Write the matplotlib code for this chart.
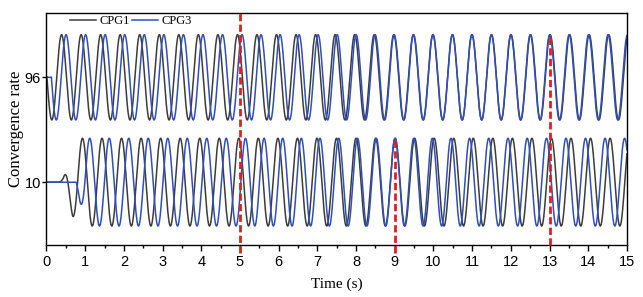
import numpy as np
import matplotlib.pyplot as plt

# oscillator parameters
period = 0.505            # s, same for both CPGs
center_upper = 96
center_lower = 10
amp_upper = 35.0
amp_lower = 36.0

# time of a CPG1 peak in each band (s)
cpg1_peak_upper = 0.39
cpg1_peak_lower = 0.93

# lag of CPG3 behind CPG1 (s) at a few times
lag_t_upper = [0, 5, 7, 9, 11, 13, 15]
lag_upper = [0.115, 0.12, 0.065, 0.01, 0.0, -0.01, -0.02]
lag_t_lower = [0, 5, 7, 9, 11, 13, 15]
lag_lower = [0.19, 0.18, 0.08, 0.0, -0.1, -0.13, -0.13]

# start-up envelopes
start_cpg1_upper = 0.01
start_cpg3_upper = 0.125
env_t_cpg1_lower = [0.35, 0.43, 0.68, 0.85]
env_cpg1_lower = [0, 0.08, 0.78, 1]
env_t_cpg3_lower = [0.76, 0.875, 1.05]
env_cpg3_lower = [0, 0.48, 1]

event_times = [5, 9, 13]
event_top = [148.7, 46, 131]
event_bottom = [-48, -48, -41.6]

xticks = np.arange(0, 16, 1)
yticks = [10, 96]

t = np.linspace(0, 15, 7501)

def wave(peak, lag, env, center, amp):
    return center + amp * env * np.cos(2 * np.pi * (t - peak - lag) / period)

cpg1_up = wave(cpg1_peak_upper, 0, (t >= start_cpg1_upper).astype(float), center_upper, amp_upper)
cpg3_up = wave(cpg1_peak_upper, np.interp(t, lag_t_upper, lag_upper),
               (t >= start_cpg3_upper).astype(float), center_upper, amp_upper)
cpg1_lo = wave(cpg1_peak_lower, 0, np.interp(t, env_t_cpg1_lower, env_cpg1_lower), center_lower, amp_lower)
cpg3_lo = wave(cpg1_peak_lower, np.interp(t, lag_t_lower, lag_lower),
               np.interp(t, env_t_cpg3_lower, env_cpg3_lower), center_lower, amp_lower)

gray = '#3c3c3c'
blue = '#2f4fbf'

fig, ax = plt.subplots(figsize=(6.43, 2.97), dpi=100)
fig.subplots_adjust(left=0.0723, right=0.975, top=0.956, bottom=0.175)

ax.plot(t, cpg1_up, color=gray, lw=1.1, label='CPG1')
ax.plot(t, cpg3_up, color=blue, lw=1.1, label='CPG3')
ax.plot(t, cpg1_lo, color=gray, lw=1.1)
ax.plot(t, cpg3_lo, color=blue, lw=1.1)

for x, y1, y0 in zip(event_times, event_top, event_bottom):
    ax.plot([x, x], [y0, y1], color='#e02020', lw=2, ls=(0, (2.6, 1.2)),
            clip_on=False, zorder=5)

ax.set_xlim(0, 15)
ax.set_ylim(-41.6, 148.7)
ax.set_xticks(xticks)
ax.set_xticks(np.arange(0.5, 15, 1), minor=True)
ax.set_yticks(yticks)
ax.tick_params(axis='x', which='major', direction='out', length=4, width=1,
               labelsize=10.5, pad=3)
ax.tick_params(axis='y', which='major', direction='out', length=3, width=1,
               labelsize=10.5, pad=1)
ax.tick_params(axis='x', which='minor', direction='out', length=2.5, width=1)
for lab in ax.get_xticklabels() + ax.get_yticklabels():
    lab.set_fontfamily('Liberation Sans')
for sp in ax.spines.values():
    sp.set_linewidth(1)

ax.set_xlabel('Time (s)', family='Liberation Serif', fontsize=11, labelpad=6)
ax.set_ylabel('Convergence rate', family='Liberation Serif', fontsize=12, labelpad=0.5)

ax.legend(loc='upper left', bbox_to_anchor=(0.04, 0.99), ncol=2, frameon=False,
          prop={'family': 'Liberation Serif', 'size': 9}, handlelength=2.1,
          handletextpad=0.25, columnspacing=0.2, borderpad=0, borderaxespad=0)

fig.savefig('out.png', dpi=100)
